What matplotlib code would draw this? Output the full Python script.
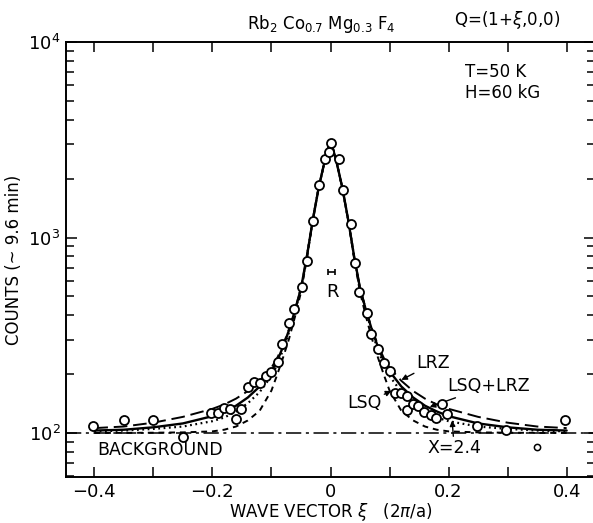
import numpy as np
import matplotlib
matplotlib.use("Agg")
import matplotlib.pyplot as plt
from matplotlib.ticker import LogLocator, NullFormatter, FixedLocator, FixedFormatter

plt.rcParams['font.family'] = ['DejaVu Sans']
plt.rcParams['mathtext.fontset'] = 'dejavusans'

# Measured scattering intensity along Q = (1+xi, 0, 0)
xi_pts = [-0.402, -0.350, -0.300, -0.249, -0.202, -0.191, -0.181, -0.170, -0.160,
          -0.151, -0.140, -0.130, -0.120, -0.110, -0.100, -0.089, -0.082, -0.070,
          -0.061, -0.049, -0.040, -0.030, -0.019, -0.009, -0.002, 0.001, 0.014,
          0.022, 0.034, 0.041, 0.049, 0.062, 0.069, 0.081, 0.090, 0.101, 0.109,
          0.120, 0.129, 0.129, 0.140, 0.149, 0.159, 0.170, 0.179, 0.189, 0.198,
          0.248, 0.298, 0.397]
counts = [109, 117, 116, 95, 126, 127, 135, 133, 118,
          132, 171, 183, 180, 196, 206, 232, 284, 367,
          430, 556, 761, 1219, 1853, 2520, 2750, 3055, 2520,
          1750, 1172, 743, 528, 412, 321, 269, 229, 208, 161,
          161, 155, 131, 141, 137, 128, 123, 119, 140, 125,
          109, 104, 117]
stray_xi = [0.349]
stray_counts = [84.5]

# Fitted line shapes, tabulated at |xi| (symmetric about xi = 0)
xi_half = [0.0, 0.01, 0.02, 0.03, 0.04, 0.05, 0.06, 0.07, 0.08, 0.09, 0.10,
           0.12, 0.14, 0.16, 0.18, 0.20, 0.25, 0.30, 0.35, 0.40]
fit_lsq_lrz = [3150, 2450, 1800, 1230, 800, 550, 425, 338, 278, 235, 207,
               173, 152, 138, 129, 122, 112, 107, 104, 103]
fit_lrz = [3150, 2450, 1800, 1230, 800, 552, 428, 342, 284, 243, 216,
           185, 164, 150, 140, 133, 121, 113, 108, 106]
fit_x24 = [3150, 2450, 1800, 1230, 800, 548, 420, 330, 268, 225, 196,
           162, 142, 129, 120, 115, 108, 105, 103, 102]
fit_lsq = [3150, 2450, 1800, 1220, 780, 525, 395, 305, 245, 200, 165,
           130, 116, 108, 104, 102, 100.8, 100.4, 100.2, 100.1]
background = 100

x_major = [-0.4, -0.2, 0.0, 0.2, 0.4]
x_minor = [-0.3, -0.1, 0.1, 0.3]
x_labels = ["\u22120.4", "\u22120.2", "0", "0.2", "0.4"]


def mirrored(half_x, half_y):
    hx = np.asarray(half_x)
    hy = np.asarray(half_y, dtype=float)
    return np.concatenate([-hx[:0:-1], hx]), np.concatenate([hy[:0:-1], hy])


fig = plt.figure(figsize=(5.93, 5.23), dpi=100)
W, H = 593, 523
ax = fig.add_axes([66 / W, 1 - 477 / H, (595 - 66) / W, (477 - 42) / H])
ax.set_yscale('log')
ax.set_xlim(-0.448, 0.448)
ax.set_ylim(59.6, 1e4)

for s in ax.spines.values():
    s.set_linewidth(1.4)

# fitted curves
x, y = mirrored(xi_half, fit_lsq_lrz)
ax.plot(x, y, color='black', lw=1.7, solid_capstyle='round', zorder=3)
x, y = mirrored(xi_half, fit_lrz)
ax.plot(x, y, color='black', lw=1.4, dashes=(7, 3), zorder=3)
x, y = mirrored(xi_half, fit_x24)
ax.plot(x, y, color='black', lw=1.6, dashes=(0.8, 1.6), zorder=3)
x, y = mirrored(xi_half, fit_lsq)
ax.plot(x, y, color='black', lw=1.4, dashes=(3, 2.5), zorder=3)

# background level
ax.axhline(background, color='black', lw=1.1, dashes=(10, 3, 2, 3), zorder=2)

# data
ax.plot(xi_pts, counts, 'o', mfc='white', mec='black', ms=6.5, mew=1.3, zorder=5)
ax.plot(stray_xi, stray_counts, 'o', mfc='white', mec='black', ms=4.5, mew=1.1, zorder=5)

# resolution bar
ax.errorbar([0.001], [668], xerr=[0.006], fmt='none', ecolor='black',
            elinewidth=1.2, capsize=2.5, capthick=1.2)
ax.text(0.003, 528, "R", ha='center', va='center', fontsize=13)

# axis ticks
ax.xaxis.set_major_locator(FixedLocator(x_major))
ax.xaxis.set_major_formatter(FixedFormatter(x_labels))
ax.xaxis.set_minor_locator(FixedLocator(x_minor))
ax.yaxis.set_major_locator(LogLocator(base=10))
ax.yaxis.set_minor_locator(LogLocator(base=10, subs=range(2, 10)))
ax.yaxis.set_minor_formatter(NullFormatter())
ax.tick_params(which='both', direction='in', top=True, right=True, width=1.1,
               labelsize=13)
ax.tick_params(axis='x', which='both', length=7, pad=4)
ax.tick_params(axis='y', which='major', length=8, pad=4)
ax.tick_params(axis='y', which='minor', length=6)

ax.set_xlabel("WAVE VECTOR $\\xi$   (2$\\pi$/a)", fontsize=12, labelpad=0)
ax.set_ylabel("COUNTS (~ 9.6 min)", fontsize=12, labelpad=4)

# labels on the curves
ax.text(-0.395, 82, "BACKGROUND", ha='left', va='center', fontsize=12.5)
arrow = dict(arrowstyle='-|>', color='black', lw=1.0, mutation_scale=8,
             shrinkA=0, shrinkB=0)
ax.annotate("LRZ", xy=(0.120, 187), xytext=(0.146, 228), ha='left', va='center',
            fontsize=12.5, arrowprops=arrow)
ax.annotate("LSQ+LRZ", xy=(0.168, 136), xytext=(0.198, 174), ha='left', va='center',
            fontsize=12.5, arrowprops=arrow)
ax.annotate("LSQ", xy=(0.103, 164), xytext=(0.0864, 142), ha='right', va='center',
            fontsize=12.5, arrowprops=arrow)
ax.annotate("X=2.4", xy=(0.206, 116), xytext=(0.164, 83.8), ha='left', va='center',
            fontsize=12.5, arrowprops=arrow)

ax.text(0.227, 7030, "T=50 K", ha='left', va='center', fontsize=12)
ax.text(0.227, 5480, "H=60 kG", ha='left', va='center', fontsize=12)

fig.text(321 / W, 1 - 24 / H, "Rb$_2$ Co$_{0.7}$ Mg$_{0.3}$ F$_4$", ha='center',
         va='center', fontsize=12)
fig.text(507 / W, 1 - 20 / H, "Q=(1+$\\xi$,0,0)", ha='center', va='center', fontsize=12)

fig.savefig("out.png", dpi=100)
